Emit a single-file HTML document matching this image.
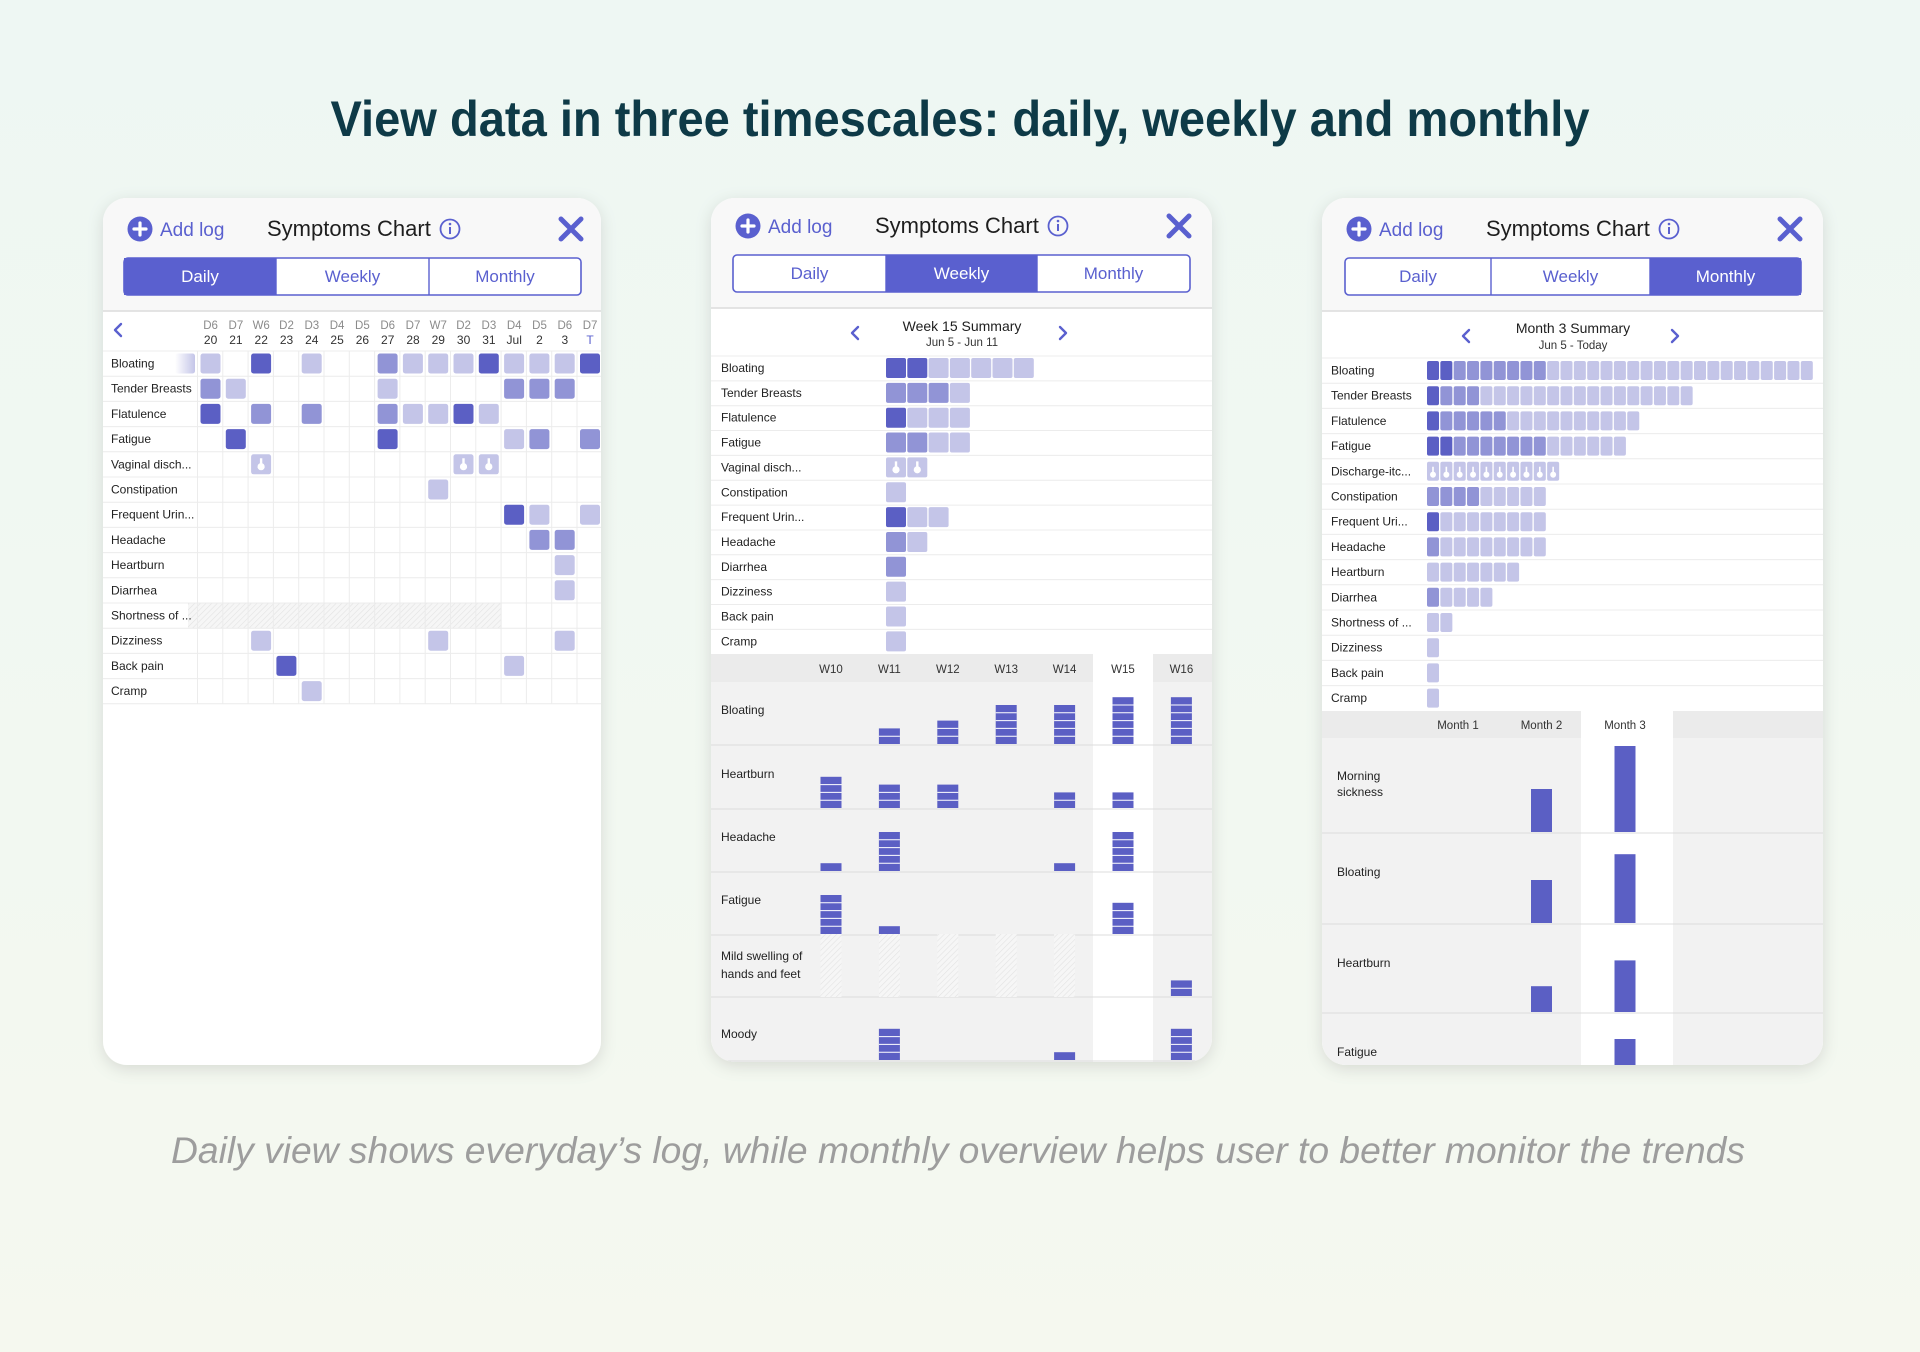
<!DOCTYPE html>
<html><head><meta charset="utf-8"><style>
html,body{margin:0;padding:0;width:1920px;height:1352px;overflow:hidden}
body{background:linear-gradient(180deg,#eef7f3 0%,#f2f8f1 60%,#f5f8ef 100%)}
svg{display:block;font-family:"Liberation Sans",sans-serif}
</style></head><body>
<svg id="root" width="1920" height="1352" viewBox="0 0 1920 1352">
<defs>
<filter id="sh" x="-10%" y="-10%" width="120%" height="120%"><feDropShadow dx="0" dy="4" stdDeviation="8" flood-color="#000" flood-opacity="0.12"/></filter>
<clipPath id="c1"><rect x="103" y="198" width="498" height="867" rx="24"/></clipPath>
<clipPath id="c2"><rect x="711" y="198" width="501" height="864" rx="24"/></clipPath>
<clipPath id="c3"><rect x="1322" y="198" width="501" height="867" rx="24"/></clipPath>
<pattern id="hatch" width="4" height="4" patternUnits="userSpaceOnUse" patternTransform="rotate(45)"><rect width="4" height="4" fill="#f6f6f6"/><line x1="0" y1="0" x2="0" y2="4" stroke="#e2e2e2" stroke-width="1.2"/></pattern>
<linearGradient id="fade" x1="0" x2="1" y1="0" y2="0"><stop offset="0" stop-color="#c4c5e8" stop-opacity="0"/><stop offset="1" stop-color="#c4c5e8"/></linearGradient>
</defs>
<text x="960" y="136" text-anchor="middle" font-size="50" font-weight="bold" fill="#0e3a47" textLength="1259" lengthAdjust="spacingAndGlyphs">View data in three timescales: daily, weekly and monthly</text>
<text x="958" y="1163" text-anchor="middle" font-size="37" font-style="italic" fill="#9d9d9d" textLength="1574" lengthAdjust="spacingAndGlyphs">Daily view shows everyday’s log, while monthly overview helps user to better monitor the trends</text>
<g id="p1"></g>
<g id="p2"></g>
<g id="p3"></g>
</svg>
<script>
// ---------- data ----------
const dailyColTop = ["D6","D7","W6","D2","D3","D4","D5","D6","D7","W7","D2","D3","D4","D5","D6","D7"];
const dailyColBottom = ["20","21","22","23","24","25","26","27","28","29","30","31","Jul","2","3","T"];
const dailySymptoms = ["Bloating","Tender Breasts","Flatulence","Fatigue","Vaginal disch...","Constipation","Frequent Urin...","Headache","Heartburn","Diarrhea","Shortness of ...","Dizziness","Back pain","Cramp"];
// 0 none, 1 light, 2 medium, 3 dark, 4 discharge icon
const dailyLevels = [
 [1,0,3,0,1,0,0,2,1,1,1,3,1,1,1,3],
 [2,1,0,0,0,0,0,1,0,0,0,0,2,2,2,0],
 [3,0,2,0,2,0,0,2,1,1,3,1,0,0,0,0],
 [0,3,0,0,0,0,0,3,0,0,0,0,1,2,0,2],
 [0,0,4,0,0,0,0,0,0,0,4,4,0,0,0,0],
 [0,0,0,0,0,0,0,0,0,1,0,0,0,0,0,0],
 [0,0,0,0,0,0,0,0,0,0,0,0,3,1,0,1],
 [0,0,0,0,0,0,0,0,0,0,0,0,0,2,2,0],
 [0,0,0,0,0,0,0,0,0,0,0,0,0,0,1,0],
 [0,0,0,0,0,0,0,0,0,0,0,0,0,0,1,0],
 [0,0,0,0,0,0,0,0,0,0,0,0,0,0,0,0],
 [0,0,1,0,0,0,0,0,0,1,0,0,0,0,1,0],
 [0,0,0,3,0,0,0,0,0,0,0,0,1,0,0,0],
 [0,0,0,0,1,0,0,0,0,0,0,0,0,0,0,0]
];
const weekSymptoms = ["Bloating","Tender Breasts","Flatulence","Fatigue","Vaginal disch...","Constipation","Frequent Urin...","Headache","Diarrhea","Dizziness","Back pain","Cramp"];
const weekLevels = [[3,3,1,1,1,1,1],[2,2,2,1],[3,1,1,1],[2,2,1,1],[4,4],[1],[3,1,1],[2,1],[2],[1],[1],[1]];
const weekLabels = ["W10","W11","W12","W13","W14","W15","W16"];
const weekTrendSymptoms = ["Bloating","Heartburn","Headache","Fatigue","Mild swelling of|hands and feet","Moody"];
const weekTrendValues = [
 [0,2,3,5,5,6,6],
 [4,3,3,0,2,2,0],
 [1,5,0,0,1,5,0],
 [5,1,0,0,0,4,0],
 [0,0,0,0,0,0,2],
 [0,4,0,0,1,0,4]
];
const weekHatched = [[],[],[],[],[0,1,2,3,4],[]];
const monthSymptoms = ["Bloating","Tender Breasts","Flatulence","Fatigue","Discharge-itc...","Constipation","Frequent Uri...","Headache","Heartburn","Diarrhea","Shortness of ...","Dizziness","Back pain","Cramp"];
const monthDark = [2,1,1,2,0,0,1,0,0,0,0,0,0,0];
const monthMedium = [7,3,5,7,0,4,0,1,0,1,0,0,0,0];
const monthLight = [20,16,10,6,0,5,8,8,7,4,2,1,1,1];
const monthIcons = [0,0,0,0,10,0,0,0,0,0,0,0,0,0];
const monthLabels = ["Month 1","Month 2","Month 3"];
const monthTrendSymptoms = ["Morning|sickness","Bloating","Heartburn","Fatigue"];
const monthTrendValues = [[0,5,10],[0,5,8],[0,3,6],[0,0,5]];

// ---------- helpers ----------
const NS="http://www.w3.org/2000/svg";
const C={3:"#5b5fc4",2:"#9194d6",1:"#c4c5e8",4:"#c4c5e8"};
const ACC="#5a60cf";
function mk(tag,attrs,parent,txt){const e=document.createElementNS(NS,tag);for(const k in attrs)e.setAttribute(k,attrs[k]);if(txt!==undefined)e.textContent=txt;parent.appendChild(e);return e;}
function dropIcon(g,cx,cy){
 const p=mk("path",{d:`M${cx-1.2} ${cy-6} h2.4 v5 a3.6 3.6 0 1 1 -2.4 0 z`,fill:"#fff"},g);
 
 
}
function shell(g,x,y,w,h,clip,dy,active,splits){
 const cg=mk("g",{"clip-path":`url(#${clip})`},g);
 const bg=mk("rect",{x:x,y:y,width:w,height:h,rx:24,fill:"#fff",filter:"url(#sh)"},g);
 g.insertBefore(bg,cg);
 
 
 const hb=mk("rect",{x:x,y:y,width:w,height:113+dy,fill:"#f8f8f8"},cg);
 
 
 const sep=mk("line",{x1:x,x2:x+w,y1:y+113+dy,y2:y+113+dy,stroke:"#dcdcdc","stroke-width":1.5},cg);
 
 
 const ay=y+31+dy;
 const ag=mk("g",{},cg);
 
 
 mk("circle",{cx:x+37,cy:ay,r:12.5,fill:ACC},ag);
 mk("path",{d:`M${x+37-6} ${ay} h12 M${x+37} ${ay-6} v12`,stroke:"#fff","stroke-width":3.2,"stroke-linecap":"round"},ag);
 mk("text",{x:x+57,y:ay+7,"font-size":19,fill:ACC},ag,"Add log");
 const t=mk("text",{x:x+164,y:ay+7,"font-size":22,fill:"#1e1e1e"},cg,"Symptoms Chart");
 
 
 const ig=mk("g",{},cg);
 
 
 mk("circle",{cx:x+347,cy:ay,r:9.5,fill:"none",stroke:ACC,"stroke-width":1.8},ig);
 mk("line",{x1:x+347,x2:x+347,y1:ay-2,y2:ay+5,stroke:ACC,"stroke-width":2},ig);
 mk("circle",{cx:x+347,cy:ay-5,r:1.3,fill:ACC},ig);
 const xg=mk("path",{d:`M${x+458} ${ay-10} L${x+478} ${ay+10} M${x+478} ${ay-10} L${x+458} ${ay+10}`,stroke:ACC,"stroke-width":5,"stroke-linecap":"round"},cg);
 
 
 const sy=y+60+dy;
 const names=["Daily","Weekly","Monthly"];
 for(let i=0;i<3;i++){
  const x1=x+splits[i],x2=x+splits[i+1];
  const sg=mk("g",{},cg);
  
  
  mk("rect",{x:x1,y:sy,width:x2-x1,height:37,fill:i===active?ACC:"#fff"},sg);
  mk("text",{x:(x1+x2)/2,y:sy+24,"text-anchor":"middle","font-size":17,fill:i===active?"#fff":ACC},sg,names[i]);
 }
 const so=mk("rect",{x:x+splits[0],y:sy,width:splits[3]-splits[0],height:37,rx:4,fill:"none",stroke:ACC,"stroke-width":1.6},cg);
 
 
 for(let i=1;i<3;i++){mk("line",{x1:x+splits[i],x2:x+splits[i],y1:sy,y2:sy+37,stroke:ACC,"stroke-width":1.4},cg);}
 return cg;
}
function chev(g,x,y,dir,name){
 const p=mk("path",{d:dir<0?`M${x+4} ${y-6} L${x-2} ${y} L${x+4} ${y+6}`:`M${x-4} ${y-6} L${x+2} ${y} L${x-4} ${y+6}`,fill:"none",stroke:ACC,"stroke-width":2.4,"stroke-linecap":"round","stroke-linejoin":"round"},g);
 
 
}

// ---------- Panel 1: daily ----------
(function(){
 const g=document.getElementById("p1");
 const cg=shell(g,103,198,498,867,"c1",0,0,[21,173,326,478]);
 const colX=i=>198+i*25.3, rowY=r=>351+r*25.2;
 chev(cg,117,330,-1,'previous-days-arrow');
 for(let i=0;i<dailyColTop.length;i++){
  const a=mk("text",{x:colX(i)+12.6,y:329,"text-anchor":"middle","font-size":11.5,fill:"#8a8a8a"},cg,dailyColTop[i]);
  
  
  const b=mk("text",{x:colX(i)+12.6,y:344,"text-anchor":"middle","font-size":12,fill:i===15?ACC:"#333"},cg,dailyColBottom[i]);
  
  
 }
 const h=mk("rect",{x:colX(0)-10,y:rowY(10),width:colX(12)-colX(0)+10,height:25.2,fill:"url(#hatch)"},cg);
 
 
 for(let i=0;i<=dailyColTop.length;i++){mk("line",{x1:colX(i)-0.5,x2:colX(i)-0.5,y1:351,y2:rowY(14),stroke:"#ececec"},cg);}
 for(let r=0;r<=dailySymptoms.length;r++){mk("line",{x1:103,x2:601,y1:rowY(r),y2:rowY(r),stroke:"#ececec"},cg);}
 const fd=mk("rect",{x:175,y:rowY(0)+2.5,width:20,height:20,rx:2.5,fill:"url(#fade)"},cg);
 
 
 dailySymptoms.forEach((s,r)=>{
  const t=mk("text",{x:111,y:rowY(r)+16.5,"font-size":12,fill:"#222"},cg,s);
  
  
  dailyLevels[r].forEach((v,i)=>{
   if(!v)return;
   const c=mk("rect",{x:colX(i)+2.5,y:rowY(r)+2.5,width:20,height:20,rx:2.5,fill:C[v]},cg);
   
   
   if(v===4)dropIcon(cg,colX(i)+12.5,rowY(r)+12.5);
  });
 });
})();

// ---------- Panel 2: weekly ----------
(function(){
 const g=document.getElementById("p2");
 const cg=shell(g,711,198,501,864,"c2",-3,1,[22,175,326,479]);
 chev(cg,854,333,-1,'previous-week-arrow');
 chev(cg,1064,333,1,'next-week-arrow');
 const t1=mk("text",{x:962,y:331,"text-anchor":"middle","font-size":14,fill:"#1e1e1e"},cg,"Week 15 Summary");
 
 
 const t2=mk("text",{x:962,y:346,"text-anchor":"middle","font-size":11.5,fill:"#333"},cg,"Jun 5 - Jun 11");
 
 
 const rowY=r=>356+r*24.85;
 mk("rect",{x:711,y:356,width:501,height:298,fill:"#fff"},cg);
 weekSymptoms.forEach((s,r)=>{
  mk("line",{x1:711,x2:1212,y1:rowY(r),y2:rowY(r),stroke:"#ececec"},cg);
  const t=mk("text",{x:721,y:rowY(r)+16,"font-size":12,fill:"#222"},cg,s);
  
  
  weekLevels[r].forEach((v,k)=>{
   const c=mk("rect",{x:886+k*21.3,y:rowY(r)+2,width:20,height:20,rx:2,fill:C[v]},cg);
   
   
   if(v===4)dropIcon(cg,896+k*21.3,rowY(r)+12);
  });
 });
 const rowTops=[682,746,809,872,934,998], rowH=63;
 const wx=i=>831+i*58.4;
 mk("rect",{x:711,y:654,width:501,height:410,fill:"#f2f2f2"},cg);
 mk("rect",{x:711,y:654,width:501,height:28,fill:"#ebebeb"},cg);
 const hl=mk("rect",{x:wx(5)-30,y:654,width:60,height:410,fill:"#fff"},cg);
 
 
 weekLabels.forEach((w,i)=>{
  const t=mk("text",{x:wx(i),y:673,"text-anchor":"middle","font-size":11.5,fill:"#333"},cg,w);
  
  
 });
 const unit=7.8;
 weekTrendSymptoms.forEach((s,r)=>{
  const top=rowTops[r], bot=top+rowH-1;
  mk("line",{x1:711,x2:1212,y1:top+rowH,y2:top+rowH,stroke:"#dcdcdc"},cg);
  const lines=s.split("|");
  lines.forEach((ln,j)=>{
   const t=mk("text",{x:721,y:(lines.length>1?top+26:top+32)+j*18-(r===5?-8:0),"font-size":12,fill:"#222"},cg,ln);
   
   
  });
  weekHatched[r].forEach(i=>{
   const hh=mk("rect",{x:wx(i)-10.5,y:top,width:21,height:rowH,fill:"url(#hatch)"},cg);
   
   
  });
  weekTrendValues[r].forEach((v,i)=>{
   if(!v)return;
   const b=mk("rect",{x:wx(i)-10.5,y:bot-v*unit,width:21,height:v*unit,fill:"#5b5fc4"},cg);
   
   
   for(let k=1;k<v;k++){mk("line",{x1:wx(i)-10.5,x2:wx(i)+10.5,y1:bot-k*unit,y2:bot-k*unit,stroke:"#fff","stroke-width":1},cg);}
  });
 });
})();

// ---------- Panel 3: monthly ----------
(function(){
 const g=document.getElementById("p3");
 const cg=shell(g,1322,198,501,867,"c3",0,2,[23,169,328,479]);
 chev(cg,1465,336,-1,'previous-month-arrow');
 chev(cg,1676,336,1,'next-month-arrow');
 const t1=mk("text",{x:1573,y:333,"text-anchor":"middle","font-size":14,fill:"#1e1e1e"},cg,"Month 3 Summary");
 
 
 const t2=mk("text",{x:1573,y:349,"text-anchor":"middle","font-size":11.5,fill:"#333"},cg,"Jun 5 - Today");
 
 
 const rowY=r=>358+r*25.2;
 mk("rect",{x:1322,y:358,width:501,height:353,fill:"#fff"},cg);
 monthSymptoms.forEach((s,r)=>{
  mk("line",{x1:1322,x2:1823,y1:rowY(r),y2:rowY(r),stroke:"#ececec"},cg);
  const t=mk("text",{x:1331,y:rowY(r)+16.5,"font-size":12,fill:"#222"},cg,s);
  
  
  const seq=[];
  for(let k=0;k<monthIcons[r];k++)seq.push(4);
  for(let k=0;k<monthDark[r];k++)seq.push(3);
  for(let k=0;k<monthMedium[r];k++)seq.push(2);
  for(let k=0;k<monthLight[r];k++)seq.push(1);
  seq.forEach((v,k)=>{
   const c=mk("rect",{x:1427+k*13.35,y:rowY(r)+3,width:12,height:19,rx:2,fill:C[v]},cg);
   
   
   if(v===4){mk("path",{d:`M${1432.2+k*13.35} ${rowY(r)+8} h1.6 v5 a3 3 0 1 1 -1.6 0 z`,fill:"#fff"},cg);}
  });
 });
 const rowTops=[738,833,924,1013], rowH=[95,91,89,70];
 const mx=i=>1458+i*83.5;
 mk("rect",{x:1322,y:711,width:501,height:360,fill:"#f2f2f2"},cg);
 mk("rect",{x:1322,y:711,width:501,height:27,fill:"#ebebeb"},cg);
 const hl=mk("rect",{x:1581,y:711,width:92,height:360,fill:"#fff"},cg);
 
 
 monthLabels.forEach((m,i)=>{
  const t=mk("text",{x:mx(i),y:729,"text-anchor":"middle","font-size":11.5,fill:"#333"},cg,m);
  
  
 });
 const unit=8.6;
 monthTrendSymptoms.forEach((s,r)=>{
  const top=rowTops[r], bot=top+rowH[r]-1;
  if(r<3)mk("line",{x1:1322,x2:1823,y1:top+rowH[r],y2:top+rowH[r],stroke:"#dcdcdc"},cg);
  const lines=s.split("|");
  lines.forEach((ln,j)=>{
   const t=mk("text",{x:1337,y:(lines.length>1?top+42:top+43)+j*16,"font-size":12,fill:"#222"},cg,ln);
   
   
  });
  monthTrendValues[r].forEach((v,i)=>{
   if(!v)return;
   const b=mk("rect",{x:mx(i)-10.5,y:bot-v*unit,width:21,height:v*unit,fill:"#5b5fc4"},cg);
   
   
  });
 });
})();
</script>
</body></html>
